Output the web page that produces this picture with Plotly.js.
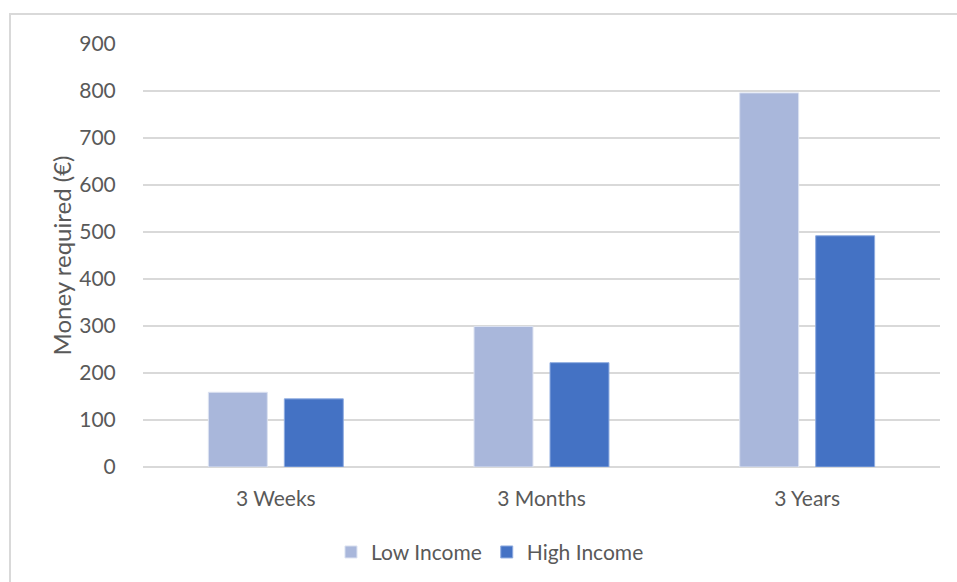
<!DOCTYPE html>
<html>
<head>
<meta charset="utf-8">
<script src="https://cdn.plot.ly/plotly-3.0.1.min.js"></script>
<style>
html,body{margin:0;padding:0;background:#fff;}
#frame{position:absolute;left:9px;top:13px;width:960px;height:600px;border:2px solid #D9D9D9;box-sizing:border-box;pointer-events:none;}
#chart{position:absolute;left:0;top:0;width:957px;height:582px;}
</style>
</head>
<body>
<div id="chart"></div>
<div id="frame"></div>
<script>
const categories = ["3 Weeks", "3 Months", "3 Years"];
const lowIncome = [159, 299, 796];
const highIncome = [145, 222, 492];
const seriesNames = ["Low Income", "High Income"];
const yTicks = [0, 100, 200, 300, 400, 500, 600, 700, 800, 900];

const fontFam = 'Lato, "Open Sans", "Liberation Sans", sans-serif';
const traces = [
  {type:'bar', name:seriesNames[0], x:categories, y:lowIncome,
   marker:{color:'#A9B7DB', line:{color:'#DCE2F1', width:1}}},
  {type:'bar', name:seriesNames[1], x:categories, y:highIncome,
   marker:{color:'#4472C4', line:{color:'#8FACE0', width:1}}}
];
const layout = {
  width:957, height:582,
  margin:{l:143, r:17, t:44, b:115, autoexpand:false},
  paper_bgcolor:'#fff', plot_bgcolor:'#fff',
  font:{family:fontFam, color:'#595959', size:21},
  barmode:'group', bargap:0.428, bargroupgap:0.224,
  showlegend:true,
  legend:{orientation:'h', x:0.512, xanchor:'center', xref:'container',
          y:0.051, yanchor:'middle', yref:'container',
          font:{size:21, color:'#595959'}, itemwidth:30, traceorder:'normal'},
  xaxis:{type:'category', showgrid:false, showline:false, zeroline:false,
         ticks:'outside', ticklen:13, tickcolor:'rgba(0,0,0,0)', tickfont:{size:21}},
  yaxis:{range:[0,900], tickvals:yTicks, showgrid:true, gridcolor:'#D9D9D9', gridwidth:1.5,
         zeroline:true, zerolinecolor:'#D9D9D9', zerolinewidth:1.5, showline:false,
         ticks:'outside', ticklen:22, tickcolor:'rgba(0,0,0,0)', tickfont:{size:21},
         title:{text:'Money required (€)', font:{size:24, color:'#595959'}, standoff:0}}
};
Plotly.newPlot('chart', traces, layout, {displayModeBar:false, staticPlot:true});
</script>
</body>
</html>
